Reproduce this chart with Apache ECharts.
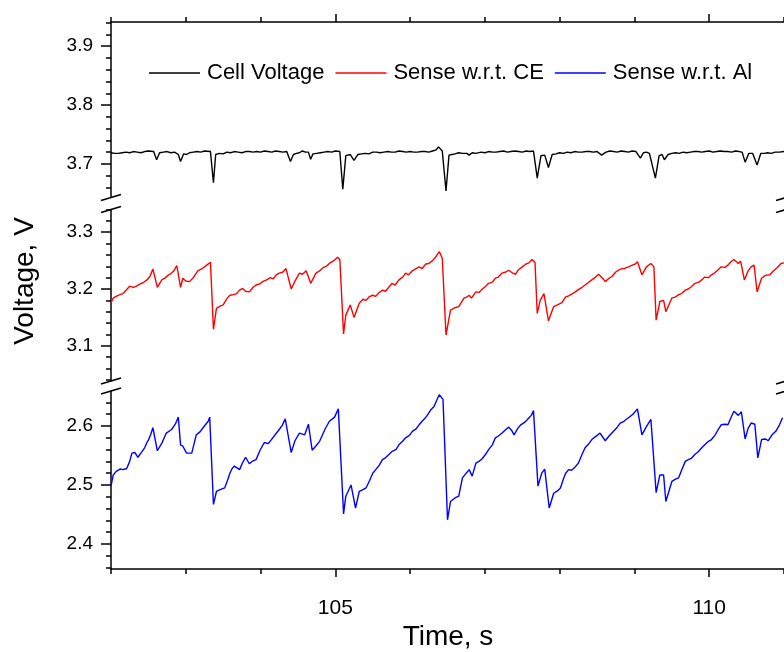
<!DOCTYPE html>
<html>
<head>
<meta charset="utf-8">
<script src="https://cdn.jsdelivr.net/npm/echarts@6/dist/echarts.min.js"></script>
<style>html,body{margin:0;padding:0;background:#fff}#c{width:784px;height:652px}</style>
</head>
<body>
<div id="c"></div>
<script>
// ---- data: [time s, voltage V] ----
const seriesNames = ['Cell Voltage', 'Sense w.r.t. CE', 'Sense w.r.t. Al'];
const xTickLabels = [105, 110];
const yTickTop = [3.7, 3.8, 3.9];
const yTickMid = [3.1, 3.2, 3.3];
const yTickBot = [2.4, 2.5, 2.6];

const cellData = [[102.00,3.719],[102.05,3.718],[102.10,3.718],[102.15,3.719],[102.20,3.720],[102.25,3.719],[102.30,3.721],[102.35,3.720],[102.40,3.719],[102.45,3.721],[102.50,3.722],[102.57,3.721],[102.61,3.707],[102.65,3.719],[102.70,3.720],[102.75,3.721],[102.80,3.719],[102.85,3.720],[102.90,3.716],[102.93,3.704],[102.97,3.717],[103.01,3.716],[103.05,3.719],[103.10,3.720],[103.15,3.721],[103.20,3.720],[103.25,3.722],[103.33,3.721],[103.37,3.668],[103.40,3.716],[103.45,3.718],[103.50,3.717],[103.55,3.720],[103.60,3.719],[103.65,3.721],[103.70,3.720],[103.75,3.719],[103.80,3.721],[103.85,3.721],[103.90,3.720],[103.95,3.721],[104.00,3.720],[104.05,3.722],[104.10,3.721],[104.15,3.720],[104.20,3.722],[104.25,3.721],[104.30,3.720],[104.35,3.721],[104.40,3.704],[104.44,3.716],[104.48,3.718],[104.52,3.719],[104.56,3.722],[104.60,3.720],[104.64,3.720],[104.67,3.708],[104.70,3.717],[104.75,3.718],[104.80,3.719],[104.85,3.720],[104.90,3.721],[104.95,3.720],[105.00,3.722],[105.06,3.721],[105.10,3.657],[105.14,3.714],[105.20,3.716],[105.25,3.706],[105.30,3.716],[105.35,3.717],[105.40,3.718],[105.45,3.717],[105.50,3.720],[105.55,3.720],[105.60,3.719],[105.65,3.720],[105.70,3.721],[105.75,3.720],[105.80,3.720],[105.85,3.722],[105.90,3.721],[105.95,3.720],[106.00,3.721],[106.05,3.720],[106.10,3.720],[106.15,3.721],[106.20,3.721],[106.25,3.720],[106.30,3.722],[106.35,3.724],[106.38,3.729],[106.43,3.722],[106.48,3.654],[106.52,3.715],[106.56,3.716],[106.60,3.717],[106.65,3.719],[106.70,3.718],[106.76,3.718],[106.79,3.715],[106.83,3.719],[106.88,3.718],[106.95,3.720],[107.00,3.719],[107.05,3.721],[107.10,3.720],[107.15,3.720],[107.20,3.721],[107.25,3.722],[107.30,3.720],[107.35,3.721],[107.40,3.722],[107.45,3.721],[107.50,3.720],[107.55,3.722],[107.60,3.721],[107.65,3.722],[107.70,3.676],[107.75,3.714],[107.80,3.715],[107.85,3.694],[107.90,3.716],[107.95,3.717],[108.00,3.719],[108.05,3.718],[108.10,3.720],[108.15,3.719],[108.20,3.721],[108.25,3.720],[108.30,3.720],[108.35,3.721],[108.40,3.721],[108.45,3.720],[108.50,3.721],[108.56,3.715],[108.62,3.720],[108.67,3.722],[108.72,3.721],[108.77,3.720],[108.82,3.722],[108.87,3.721],[108.92,3.720],[108.97,3.722],[109.02,3.721],[109.08,3.710],[109.12,3.719],[109.16,3.720],[109.20,3.718],[109.28,3.676],[109.33,3.714],[109.37,3.716],[109.40,3.707],[109.45,3.716],[109.50,3.718],[109.55,3.719],[109.60,3.718],[109.65,3.720],[109.70,3.719],[109.75,3.720],[109.80,3.721],[109.85,3.721],[109.90,3.720],[109.95,3.721],[110.00,3.722],[110.05,3.720],[110.10,3.721],[110.15,3.722],[110.20,3.721],[110.25,3.721],[110.30,3.720],[110.35,3.722],[110.40,3.721],[110.44,3.720],[110.48,3.703],[110.53,3.718],[110.58,3.718],[110.64,3.698],[110.69,3.718],[110.74,3.718],[110.78,3.719],[110.83,3.718],[110.88,3.720],[110.94,3.720],[111.00,3.721]];

const ceData = [[102.00,3.176],[102.03,3.184],[102.08,3.188],[102.12,3.190],[102.16,3.192],[102.21,3.199],[102.25,3.205],[102.30,3.203],[102.34,3.205],[102.39,3.209],[102.43,3.211],[102.48,3.216],[102.52,3.222],[102.56,3.235],[102.62,3.203],[102.68,3.216],[102.72,3.219],[102.76,3.224],[102.79,3.226],[102.84,3.232],[102.88,3.241],[102.93,3.203],[102.96,3.219],[103.00,3.214],[103.05,3.213],[103.10,3.220],[103.16,3.232],[103.22,3.236],[103.28,3.242],[103.33,3.247],[103.37,3.129],[103.41,3.166],[103.46,3.170],[103.50,3.172],[103.55,3.183],[103.59,3.189],[103.64,3.190],[103.68,3.192],[103.72,3.198],[103.76,3.201],[103.80,3.196],[103.85,3.195],[103.90,3.203],[103.94,3.207],[103.99,3.209],[104.04,3.214],[104.08,3.216],[104.13,3.220],[104.17,3.218],[104.21,3.225],[104.25,3.228],[104.30,3.230],[104.34,3.236],[104.41,3.200],[104.46,3.214],[104.52,3.228],[104.56,3.226],[104.61,3.232],[104.67,3.210],[104.74,3.228],[104.79,3.232],[104.84,3.238],[104.88,3.240],[104.92,3.245],[104.97,3.249],[105.03,3.256],[105.06,3.252],[105.11,3.121],[105.14,3.154],[105.20,3.172],[105.25,3.150],[105.32,3.175],[105.37,3.182],[105.41,3.180],[105.45,3.186],[105.50,3.189],[105.54,3.187],[105.58,3.193],[105.63,3.198],[105.67,3.196],[105.72,3.204],[105.76,3.210],[105.80,3.207],[105.85,3.216],[105.90,3.221],[105.94,3.228],[105.98,3.225],[106.03,3.232],[106.08,3.236],[106.12,3.239],[106.16,3.236],[106.21,3.244],[106.25,3.245],[106.30,3.250],[106.34,3.256],[106.39,3.266],[106.43,3.254],[106.48,3.119],[106.54,3.163],[106.60,3.167],[106.65,3.169],[106.72,3.184],[106.76,3.186],[106.79,3.189],[106.82,3.184],[106.88,3.195],[106.92,3.194],[106.96,3.199],[107.01,3.205],[107.05,3.210],[107.10,3.212],[107.14,3.219],[107.18,3.221],[107.23,3.228],[107.28,3.230],[107.32,3.233],[107.36,3.229],[107.41,3.226],[107.45,3.234],[107.50,3.239],[107.55,3.244],[107.59,3.246],[107.63,3.252],[107.67,3.247],[107.70,3.157],[107.74,3.180],[107.79,3.192],[107.85,3.144],[107.92,3.169],[107.97,3.172],[108.03,3.176],[108.08,3.186],[108.12,3.188],[108.17,3.192],[108.21,3.195],[108.25,3.199],[108.30,3.203],[108.34,3.207],[108.38,3.211],[108.43,3.216],[108.48,3.221],[108.52,3.226],[108.54,3.228],[108.58,3.218],[108.61,3.213],[108.66,3.219],[108.70,3.222],[108.75,3.230],[108.81,3.235],[108.86,3.236],[108.92,3.239],[108.97,3.242],[109.01,3.244],[109.04,3.248],[109.10,3.225],[109.16,3.239],[109.22,3.245],[109.26,3.239],[109.29,3.145],[109.34,3.178],[109.39,3.180],[109.42,3.160],[109.50,3.184],[109.55,3.186],[109.59,3.190],[109.63,3.192],[109.68,3.198],[109.72,3.200],[109.76,3.204],[109.81,3.210],[109.86,3.212],[109.90,3.216],[109.94,3.221],[109.99,3.220],[110.03,3.225],[110.07,3.228],[110.12,3.234],[110.16,3.239],[110.21,3.238],[110.25,3.242],[110.29,3.248],[110.33,3.252],[110.39,3.245],[110.42,3.249],[110.47,3.216],[110.52,3.232],[110.56,3.239],[110.60,3.242],[110.64,3.195],[110.70,3.219],[110.75,3.224],[110.81,3.225],[110.86,3.232],[110.91,3.238],[110.96,3.245],[111.00,3.246]];

const alData = [[102.00,2.498],[102.03,2.517],[102.07,2.523],[102.12,2.527],[102.16,2.526],[102.21,2.528],[102.25,2.540],[102.28,2.554],[102.32,2.555],[102.36,2.547],[102.40,2.554],[102.45,2.563],[102.48,2.572],[102.50,2.576],[102.53,2.585],[102.56,2.597],[102.62,2.558],[102.68,2.571],[102.74,2.588],[102.81,2.594],[102.86,2.603],[102.90,2.615],[102.93,2.568],[102.96,2.566],[103.01,2.554],[103.08,2.554],[103.14,2.585],[103.19,2.590],[103.23,2.597],[103.30,2.608],[103.32,2.615],[103.37,2.467],[103.41,2.489],[103.46,2.492],[103.52,2.495],[103.55,2.505],[103.59,2.520],[103.62,2.528],[103.65,2.532],[103.72,2.526],[103.76,2.538],[103.80,2.547],[103.85,2.536],[103.90,2.541],[103.94,2.543],[103.99,2.558],[104.05,2.572],[104.10,2.570],[104.14,2.576],[104.20,2.586],[104.25,2.594],[104.29,2.601],[104.33,2.612],[104.41,2.555],[104.46,2.575],[104.52,2.588],[104.59,2.585],[104.64,2.603],[104.69,2.559],[104.74,2.566],[104.79,2.574],[104.86,2.594],[104.92,2.608],[104.99,2.615],[105.04,2.629],[105.11,2.451],[105.14,2.481],[105.21,2.500],[105.27,2.461],[105.32,2.489],[105.37,2.492],[105.41,2.495],[105.46,2.508],[105.50,2.520],[105.54,2.526],[105.59,2.534],[105.63,2.543],[105.67,2.546],[105.72,2.552],[105.76,2.557],[105.81,2.560],[105.85,2.568],[105.90,2.574],[105.94,2.580],[105.99,2.584],[106.03,2.591],[106.08,2.595],[106.12,2.602],[106.16,2.608],[106.20,2.613],[106.24,2.620],[106.28,2.628],[106.32,2.633],[106.36,2.645],[106.39,2.653],[106.44,2.645],[106.50,2.441],[106.54,2.472],[106.60,2.478],[106.65,2.481],[106.70,2.512],[106.75,2.520],[106.79,2.526],[106.83,2.515],[106.88,2.537],[106.92,2.540],[106.96,2.544],[107.01,2.552],[107.05,2.560],[107.10,2.568],[107.14,2.580],[107.18,2.583],[107.23,2.588],[107.28,2.594],[107.32,2.598],[107.36,2.592],[107.39,2.585],[107.44,2.596],[107.48,2.602],[107.54,2.607],[107.59,2.614],[107.62,2.618],[107.65,2.626],[107.71,2.498],[107.76,2.520],[107.80,2.527],[107.86,2.461],[107.92,2.486],[107.97,2.490],[108.01,2.495],[108.05,2.510],[108.08,2.520],[108.12,2.526],[108.16,2.525],[108.21,2.531],[108.25,2.537],[108.30,2.552],[108.34,2.563],[108.39,2.570],[108.43,2.577],[108.48,2.582],[108.54,2.588],[108.61,2.575],[108.66,2.583],[108.72,2.591],[108.77,2.598],[108.81,2.605],[108.86,2.608],[108.92,2.614],[108.98,2.620],[109.04,2.629],[109.10,2.585],[109.16,2.599],[109.22,2.611],[109.29,2.487],[109.34,2.517],[109.39,2.517],[109.42,2.472],[109.50,2.506],[109.55,2.510],[109.59,2.512],[109.63,2.525],[109.68,2.540],[109.72,2.543],[109.76,2.545],[109.81,2.552],[109.85,2.556],[109.90,2.563],[109.94,2.568],[109.99,2.574],[110.03,2.577],[110.08,2.585],[110.12,2.594],[110.16,2.602],[110.21,2.603],[110.25,2.602],[110.29,2.614],[110.33,2.625],[110.39,2.618],[110.43,2.624],[110.48,2.578],[110.52,2.596],[110.56,2.605],[110.61,2.603],[110.65,2.546],[110.70,2.577],[110.75,2.578],[110.79,2.575],[110.84,2.585],[110.89,2.591],[110.94,2.602],[110.98,2.614]];

// ---- chart ----
const FONT = 'Liberation Sans, Arial, Helvetica, sans-serif';
const GL = 111, GW = 675;
const grids = [
  {top: 22, height: 175.5, min: 3.643, max: 3.941, majors: yTickTop},
  {top: 209.5, height: 171.5, min: 3.038, max: 3.340, majors: yTickMid},
  {top: 391, height: 178, min: 2.3576, max: 2.6593, majors: yTickBot}
];
function minorList(min, max) {
  const out = [];
  for (let k = Math.ceil(min * 50 - 1e-6); k <= Math.floor(max * 50 + 1e-6); k++) out.push(Math.round(k * 2) / 100);
  return out;
}

const tickStyle = {color: '#000', width: 1.5};
const xAxes = [
  {gridIndex: 0, type: 'value', min: 102, max: 111, interval: 1, position: 'top',
   axisLine: {lineStyle: tickStyle}, axisTick: {inside: false, length: 5, lineStyle: tickStyle},
   axisLabel: {show: false}, splitLine: {show: false}},
  {gridIndex: 0, type: 'value', min: 102, max: 111, position: 'top',
   axisLine: {show: false}, axisTick: {inside: false, length: 8, customValues: xTickLabels, lineStyle: tickStyle},
   axisLabel: {show: false}, splitLine: {show: false}},
  {gridIndex: 1, type: 'value', min: 102, max: 111, show: false},
  {gridIndex: 2, type: 'value', min: 102, max: 111, interval: 1, position: 'bottom',
   axisLine: {lineStyle: tickStyle}, axisTick: {inside: false, length: 5, lineStyle: tickStyle},
   axisLabel: {customValues: xTickLabels, fontSize: 21, color: '#000', fontFamily: FONT, margin: 29},
   splitLine: {show: false}},
  {gridIndex: 2, type: 'value', min: 102, max: 111, position: 'bottom',
   axisLine: {show: false}, axisTick: {inside: false, length: 8, customValues: xTickLabels, lineStyle: tickStyle},
   axisLabel: {show: false}, splitLine: {show: false}}
];
const yAxes = [];
grids.forEach((g, i) => {
  yAxes.push({gridIndex: i, type: 'value', min: g.min, max: g.max, position: 'left',
    axisLine: {show: true, lineStyle: tickStyle},
    axisTick: {show: true, inside: false, length: 5, customValues: minorList(g.min, g.max), lineStyle: tickStyle},
    axisLabel: {customValues: g.majors, fontSize: 19, color: '#000', fontFamily: FONT, margin: 18,
      formatter: v => v.toFixed(1)},
    splitLine: {show: false}});
  yAxes.push({gridIndex: i, type: 'value', min: g.min, max: g.max, position: 'left',
    axisLine: {show: false},
    axisTick: {show: true, inside: false, length: 10, customValues: g.majors, lineStyle: tickStyle},
    axisLabel: {show: false}, splitLine: {show: false}});
});

const breaks = [197.5, 209.5, 381, 391];
const graphics = [];
[GL, GL + GW].forEach(x => breaks.forEach(y => graphics.push({
  type: 'line', shape: {x1: x - 10, y1: y + 3, x2: x + 10, y2: y - 3},
  style: {stroke: '#000', lineWidth: 1.5}, z: 100
})));
graphics.push({type: 'text', x: 448, y: 637, style: {text: 'Time, s', font: '28px ' + FONT, fill: '#000', textAlign: 'center', textVerticalAlign: 'middle'}});
graphics.push({type: 'text', x: 25, y: 281, rotation: Math.PI / 2, style: {text: 'Voltage, V', font: '28px ' + FONT, fill: '#000', textAlign: 'center', textVerticalAlign: 'middle'}});

const colors = ['#000000', '#ff0000', '#0000ff'];
const chart = echarts.init(document.getElementById('c'), null, {renderer: 'canvas'});
chart.setOption({
  animation: false,
  backgroundColor: '#fff',
  grid: grids.map(g => ({left: GL, width: GW, top: g.top, height: g.height, containLabel: false})),
  xAxis: xAxes,
  yAxis: yAxes,
  legend: {
    left: 144, top: 56, itemWidth: 51, itemHeight: 1.5, itemGap: 11, icon: 'rect', selectedMode: false,
    data: seriesNames,
    textStyle: {fontSize: 22, color: '#000', fontFamily: FONT, padding: [0, 0, 0, 2], lineHeight: 24}
  },
  graphic: graphics,
  series: [
    {name: seriesNames[0], type: 'line', xAxisIndex: 0, yAxisIndex: 0, data: cellData, showSymbol: false, color: colors[0], lineStyle: {width: 1.4, color: colors[0]}},
    {name: seriesNames[1], type: 'line', xAxisIndex: 2, yAxisIndex: 2, data: ceData, showSymbol: false, color: colors[1], lineStyle: {width: 1.4, color: colors[1]}},
    {name: seriesNames[2], type: 'line', xAxisIndex: 3, yAxisIndex: 4, data: alData, showSymbol: false, color: colors[2], lineStyle: {width: 1.4, color: colors[2]}}
  ]
});
</script>
</body>
</html>
